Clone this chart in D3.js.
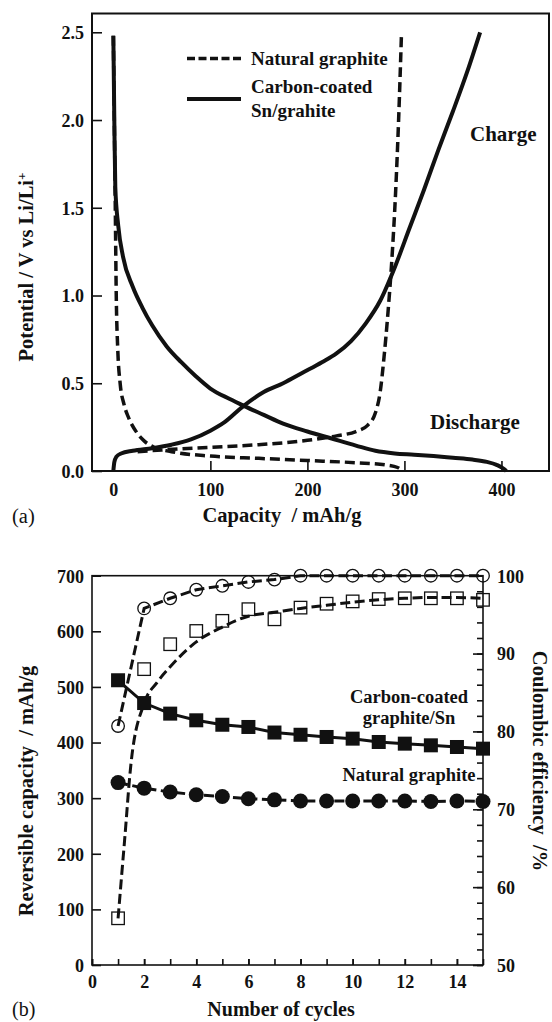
<!DOCTYPE html>
<html>
<head>
<meta charset="utf-8">
<script src="https://cdn.jsdelivr.net/npm/d3@7"></script>
<style>
  html, body { margin: 0; padding: 0; background: #fff; }
  svg { display: block; }
  text { font-family: "Liberation Serif", "Times New Roman", serif; fill: #111; }
</style>
</head>
<body>
<svg id="chart" width="552" height="1022"></svg>
<script>
// ---------- Panel (a): first-cycle potential profiles, [capacity mAh/g, potential V] ----------
const snDischarge = [[0, 2.48], [1, 2.0], [2, 1.62], [5, 1.4], [10, 1.22], [20, 1.05], [30, 0.93],
  [40, 0.83], [55, 0.71], [70, 0.62], [85, 0.54], [100, 0.47], [120, 0.41], [135, 0.37], [155, 0.32],
  [175, 0.27], [200, 0.225], [225, 0.185], [250, 0.145], [270, 0.115], [290, 0.1], [310, 0.093],
  [330, 0.085], [350, 0.075], [370, 0.065], [385, 0.052], [395, 0.035], [403, 0.01], [405, 0]];
const snCharge = [[0, 0], [1, 0.05], [3, 0.08], [8, 0.1], [20, 0.115], [40, 0.13], [60, 0.15],
  [80, 0.18], [100, 0.23], [115, 0.28], [134, 0.37], [155, 0.45], [175, 0.5], [195, 0.56],
  [215, 0.62], [230, 0.67], [245, 0.74], [260, 0.84], [275, 0.97], [290, 1.16], [305, 1.38],
  [320, 1.6], [335, 1.83], [350, 2.05], [365, 2.28], [378, 2.5]];
const ngDischarge = [[0, 2.48], [1, 2.0], [2, 1.5], [3, 1.0], [4.5, 0.7], [7, 0.5], [11, 0.38],
  [16, 0.3], [24, 0.22], [32, 0.17], [42, 0.135], [60, 0.11], [100, 0.085], [150, 0.072],
  [200, 0.06], [250, 0.047], [280, 0.035], [293, 0.02], [298, 0]];
const ngCharge = [[25, 0.11], [50, 0.12], [100, 0.135], [150, 0.15], [200, 0.175], [230, 0.2],
  [250, 0.225], [262, 0.26], [270, 0.33], [275, 0.45], [279, 0.65], [283, 0.9], [287, 1.2],
  [291, 1.6], [294, 2.0], [297, 2.5]];
const potentialTicks = [0, 0.5, 1.0, 1.5, 2.0, 2.5];
const capacityTicks = [0, 100, 200, 300, 400];

// ---------- Panel (b): cycling behaviour ----------
const cycles = [1, 2, 3, 4, 5, 6, 7, 8, 9, 10, 11, 12, 13, 14, 15];
const coatedCapacity = [512, 471, 452, 440, 432, 428, 418, 414, 410, 407, 401, 398, 395, 392, 389];
const naturalCapacity = [328, 318, 311, 306, 303, 299, 297, 295, 295, 295, 295, 295, 294, 295, 294];
const naturalEfficiency = [80.7, 95.8, 97.1, 98.2, 98.7, 99.2, 99.5, 100, 100, 100, 100, 100, 100, 100, 100];
const coatedEfficiency = [56.0, 88.0, 91.2, 92.9, 94.2, 95.7, 94.4, 95.9, 96.4, 96.7, 97.0, 97.1, 97.1, 97.1, 96.9];
// smoothed trend drawn through the coated-electrode efficiency, [cycle, %]
const coatedEfficiencyTrend = [[1, 56], [1.25, 66], [1.5, 76], [2, 83.6], [2.5, 86.3], [3, 88.3],
  [4, 91.5], [5, 93.4], [6, 94.8], [7, 95.3], [8, 95.8], [9, 96.2], [10, 96.6], [11, 96.9],
  [12, 97.1], [13, 97.2], [14, 97.2], [15, 97.1]];
const reversibleTicks = [0, 100, 200, 300, 400, 500, 600, 700];
const efficiencyTicks = [50, 60, 70, 80, 90, 100];
const efficiencyMinorTicks = d3.range(50, 101, 2);
const cycleTicks = [0, 2, 4, 6, 8, 10, 12, 14];
const cycleMinorTicks = d3.range(0, 16, 1);

const svg = d3.select("#chart");
const BOLD = 700;

function styleAxis(g, size) {
  g.select(".domain").remove();
  g.selectAll(".tick line").attr("stroke", "#111").attr("stroke-width", 1.6);
  g.selectAll(".tick text").attr("font-size", size).attr("font-weight", BOLD)
    .attr("font-family", '"Liberation Serif", "Times New Roman", serif').attr("fill", "#111");
}

// ================= Panel (a) =================
{
  const L = 92, R = 549, T = 13.5, B = 471;
  const x = d3.scaleLinear().domain([-22, 449]).range([L, R]);
  const y = d3.scaleLinear().domain([0, 2.607]).range([B, T]);

  const ya = svg.append("g").attr("transform", `translate(${L},0)`)
    .call(d3.axisLeft(y).tickValues(potentialTicks).tickSize(-10).tickPadding(8).tickFormat(d3.format(".1f")));
  styleAxis(ya, 18);
  ya.selectAll(".tick text").attr("dy", "0.35em");

  const xa = svg.append("g").attr("transform", `translate(0,${B})`)
    .call(d3.axisBottom(x).tickValues(capacityTicks).tickSize(-10).tickFormat(d3.format("d")));
  styleAxis(xa, 18);
  xa.selectAll(".tick text").attr("y", 19).attr("dy", "0.35em");

  const line = d3.line().x(d => x(d[0])).y(d => y(d[1])).curve(d3.curveMonotoneX);
  const plot = svg.append("g");
  [ngDischarge, ngCharge].forEach(s => plot.append("path").attr("d", line(s))
    .attr("fill", "none").attr("stroke", "#111").attr("stroke-width", 3.5)
    .attr("stroke-dasharray", "10,5"));
  [snDischarge, snCharge].forEach(s => plot.append("path").attr("d", line(s))
    .attr("fill", "none").attr("stroke", "#111").attr("stroke-width", 4)
    .attr("stroke-linejoin", "round"));

  svg.append("rect").attr("x", L).attr("y", T).attr("width", R - L).attr("height", B - T)
    .attr("fill", "none").attr("stroke", "#111").attr("stroke-width", 2);

  // legend
  const lg = svg.append("g");
  lg.append("line").attr("x1", 187).attr("x2", 241).attr("y1", 58.5).attr("y2", 58.5)
    .attr("stroke", "#111").attr("stroke-width", 3.5).attr("stroke-dasharray", "8,3.5");
  lg.append("line").attr("x1", 187).attr("x2", 241).attr("y1", 99).attr("y2", 99)
    .attr("stroke", "#111").attr("stroke-width", 4);
  [["Natural graphite", 58.5], ["Carbon-coated", 86.7], ["Sn/grahite", 110]].forEach(([t, yy]) =>
    lg.append("text").attr("x", 251).attr("y", yy).attr("dy", "0.35em")
      .attr("font-size", 19).attr("font-weight", BOLD).text(t));

  svg.append("text").attr("x", 470).attr("y", 133.3).attr("dy", "0.35em")
    .attr("font-size", 21).attr("font-weight", BOLD).text("Charge");
  svg.append("text").attr("x", 430).attr("y", 421.7).attr("dy", "0.35em")
    .attr("font-size", 21).attr("font-weight", BOLD).text("Discharge");

  // axis titles
  svg.append("text").attr("x", 282).attr("y", 515).attr("dy", "0.35em")
    .attr("text-anchor", "middle").attr("font-size", 20.5).attr("font-weight", BOLD)
    .style("white-space", "pre").text("Capacity  / mAh/g");
  const yt = svg.append("text").attr("transform", "translate(26,267) rotate(-90)")
    .attr("dy", "0.35em").attr("text-anchor", "middle").attr("font-size", 20.5).attr("font-weight", BOLD);
  yt.append("tspan").text("Potential / V vs Li/Li");
  yt.append("tspan").attr("baseline-shift", "super").attr("font-size", 13).text("+");

  svg.append("text").attr("x", 12).attr("y", 516).attr("dy", "0.35em")
    .attr("font-size", 20.5).text("(a)");
}

// ================= Panel (b) =================
{
  const L = 92, R = 483, T = 575.7, B = 965;
  const x = d3.scaleLinear().domain([0, 15]).range([L, R]);
  const yL = d3.scaleLinear().domain([0, 700]).range([B, T]);
  const yR = d3.scaleLinear().domain([50, 100]).range([B, T]);

  const la = svg.append("g").attr("transform", `translate(${L},0)`)
    .call(d3.axisLeft(yL).tickValues(reversibleTicks).tickSize(-9).tickPadding(8).tickFormat(d3.format("d")));
  styleAxis(la, 18);
  la.selectAll(".tick text").attr("dy", "0.35em");

  const rm = svg.append("g").attr("transform", `translate(${R},0)`)
    .call(d3.axisRight(yR).tickValues(efficiencyMinorTicks).tickSize(-6).tickFormat(""));
  styleAxis(rm, 18);
  const ra = svg.append("g").attr("transform", `translate(${R},0)`)
    .call(d3.axisRight(yR).tickValues(efficiencyTicks).tickSize(-10).tickPadding(14).tickFormat(d3.format("d")));
  styleAxis(ra, 18);
  ra.selectAll(".tick text").attr("dy", "0.35em");

  const bm = svg.append("g").attr("transform", `translate(0,${B})`)
    .call(d3.axisBottom(x).tickValues(cycleMinorTicks).tickSize(-6).tickFormat(""));
  styleAxis(bm, 18);
  const ba = svg.append("g").attr("transform", `translate(0,${B})`)
    .call(d3.axisBottom(x).tickValues(cycleTicks).tickSize(-6).tickFormat(d3.format("d")));
  styleAxis(ba, 18);
  ba.selectAll(".tick text").attr("y", 17).attr("dy", "0.35em");

  const dash = "10,4.5";
  const lin = (ys, sc) => d3.line().x((d, i) => x(cycles[i])).y(d => sc(d))(ys);

  // connecting lines
  svg.append("path").attr("d", d3.line().x(d => x(d[0])).y(d => yR(d[1])).curve(d3.curveMonotoneX)(coatedEfficiencyTrend))
    .attr("fill", "none").attr("stroke", "#111").attr("stroke-width", 3).attr("stroke-dasharray", dash);
  svg.append("path").attr("d", lin(naturalEfficiency, yR))
    .attr("fill", "none").attr("stroke", "#111").attr("stroke-width", 3).attr("stroke-dasharray", dash);
  svg.append("path").attr("d", lin(naturalCapacity, yL))
    .attr("fill", "none").attr("stroke", "#111").attr("stroke-width", 3).attr("stroke-dasharray", dash);
  svg.append("path").attr("d", lin(coatedCapacity, yL))
    .attr("fill", "none").attr("stroke", "#111").attr("stroke-width", 3);

  svg.append("rect").attr("x", L).attr("y", T).attr("width", R - L).attr("height", B - T)
    .attr("fill", "none").attr("stroke", "#111").attr("stroke-width", 1.6);

  // markers
  const sq = 14;
  svg.append("g").selectAll("rect").data(coatedCapacity).join("rect")
    .attr("x", (d, i) => x(cycles[i]) - sq / 2).attr("y", d => yL(d) - sq / 2)
    .attr("width", sq).attr("height", sq).attr("fill", "#111");
  svg.append("g").selectAll("circle").data(naturalCapacity).join("circle")
    .attr("cx", (d, i) => x(cycles[i])).attr("cy", d => yL(d)).attr("r", 7.5).attr("fill", "#111");
  svg.append("g").selectAll("circle").data(naturalEfficiency).join("circle")
    .attr("cx", (d, i) => x(cycles[i])).attr("cy", d => yR(d)).attr("r", 6.3)
    .attr("fill", "none").attr("stroke", "#111").attr("stroke-width", 1.3);
  const osq = 12.5;
  svg.append("g").selectAll("rect").data(coatedEfficiency).join("rect")
    .attr("x", (d, i) => x(cycles[i]) - osq / 2).attr("y", d => yR(d) - osq / 2)
    .attr("width", osq).attr("height", osq)
    .attr("fill", "none").attr("stroke", "#111").attr("stroke-width", 1.3);

  // series labels
  [["Carbon-coated", 696.7], ["graphite/Sn", 717.3], ["Natural graphite", 775]].forEach(([t, yy]) =>
    svg.append("text").attr("x", 409).attr("y", yy).attr("dy", "0.35em").attr("text-anchor", "middle")
      .attr("font-size", 18.5).attr("font-weight", BOLD).text(t));

  // axis titles
  svg.append("text").attr("x", 281).attr("y", 1009).attr("dy", "0.35em")
    .attr("text-anchor", "middle").attr("font-size", 20).attr("font-weight", BOLD).text("Number of cycles");
  svg.append("text").attr("transform", "translate(26,791) rotate(-90)").attr("dy", "0.35em")
    .attr("text-anchor", "middle").attr("font-size", 20.5).attr("font-weight", BOLD)
    .style("white-space", "pre").text("Reversible capacity  / mAh/g");
  svg.append("text").attr("transform", "translate(540,761) rotate(90)").attr("dy", "0.35em")
    .attr("text-anchor", "middle").attr("font-size", 20.5).attr("font-weight", BOLD)
    .style("white-space", "pre").text("Coulombic efficiency  /%");

  svg.append("text").attr("x", 12).attr("y", 1009).attr("dy", "0.35em")
    .attr("font-size", 20).text("(b)");
}
</script>
</body>
</html>
